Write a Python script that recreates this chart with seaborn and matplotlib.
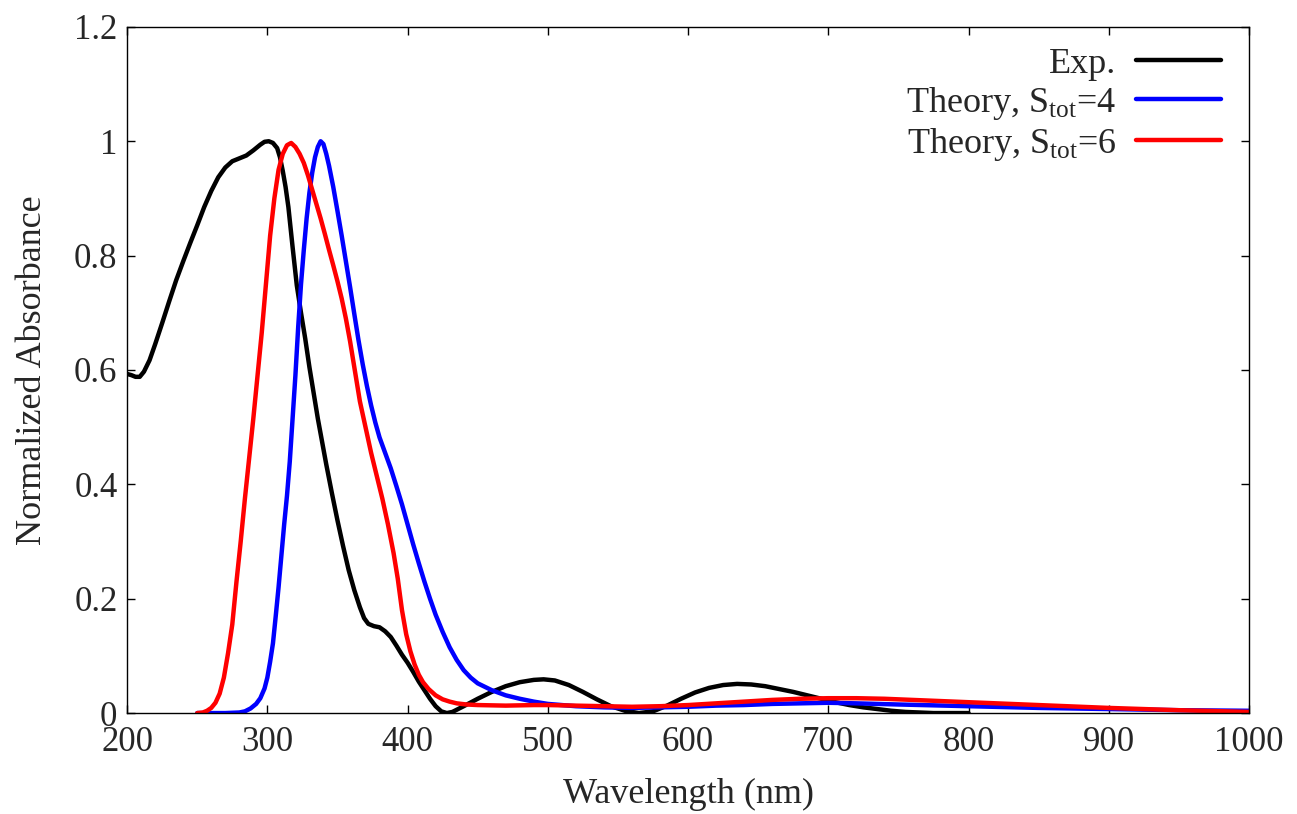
import numpy as np
import pandas as pd
import seaborn as sns
import matplotlib
matplotlib.use('Agg')
import matplotlib.pyplot as plt

# Experimental spectrum
exp_wl = [200, 203, 206, 209, 212, 216, 220, 225, 230, 235, 240, 245, 250, 255,
          260, 265, 270, 275, 280, 285, 290, 295, 298, 301, 304, 307, 309, 311,
          313, 315, 318, 321, 324, 327, 330, 333, 336, 339, 342, 346, 350, 354,
          358, 362, 366, 369, 372, 376, 380, 384, 388, 392, 396, 400, 404, 408,
          412, 416, 420, 424, 428, 432, 436, 440, 450, 460, 470, 480, 490, 497,
          505, 515, 525, 535, 545, 555, 565, 575, 585, 595, 605, 615, 625, 635,
          645, 655, 665, 675, 685, 695, 705, 715, 725, 735, 745, 755, 765, 775,
          800]
exp_abs = [0.593, 0.591, 0.588, 0.588, 0.597, 0.617, 0.645, 0.682, 0.720, 0.757,
           0.790, 0.822, 0.853, 0.885, 0.913, 0.937, 0.954, 0.965, 0.970, 0.975,
           0.984, 0.994, 0.999, 1.000, 0.997, 0.988, 0.972, 0.948, 0.920, 0.885,
           0.815, 0.748, 0.700, 0.655, 0.605, 0.560, 0.515, 0.475, 0.435, 0.385,
           0.337, 0.292, 0.250, 0.215, 0.185, 0.166, 0.156, 0.152, 0.150, 0.143,
           0.133, 0.118, 0.102, 0.088, 0.072, 0.055, 0.040, 0.025, 0.012, 0.003,
           0.000, 0.002, 0.007, 0.012, 0.025, 0.037, 0.047, 0.054, 0.058, 0.059,
           0.057, 0.049, 0.037, 0.024, 0.012, 0.004, 0.000, 0.003, 0.013, 0.025,
           0.036, 0.044, 0.049, 0.051, 0.050, 0.047, 0.042, 0.037, 0.031, 0.025,
           0.019, 0.014, 0.010, 0.007, 0.004, 0.002, 0.001, 0.000, 0.000]

# Theory, S_tot = 4
s4_wl = [250, 270, 280, 284, 288, 292, 295, 298, 300, 302, 304, 306, 308, 310,
         312, 314, 316, 318, 320, 322, 324, 326, 328, 330, 332, 334, 336, 338,
         340, 342, 344, 347, 350, 353, 356, 359, 362, 365, 368, 371, 374, 377,
         380, 384, 388, 392, 396, 400, 404, 408, 412, 416, 420, 425, 430, 435,
         440, 445, 450, 460, 470, 480, 490, 500, 520, 540, 560, 580, 600, 620,
         640, 660, 680, 700, 720, 750, 800, 850, 900, 950, 1000]
s4_abs = [0.000, 0.000, 0.001, 0.003, 0.008, 0.016, 0.026, 0.043, 0.062, 0.090,
          0.122, 0.170, 0.220, 0.275, 0.330, 0.380, 0.440, 0.515, 0.590, 0.675,
          0.750, 0.810, 0.865, 0.910, 0.945, 0.972, 0.990, 1.000, 0.995, 0.978,
          0.957, 0.920, 0.878, 0.835, 0.790, 0.745, 0.698, 0.652, 0.610, 0.572,
          0.538, 0.508, 0.482, 0.455, 0.428, 0.397, 0.365, 0.330, 0.295, 0.262,
          0.230, 0.200, 0.172, 0.142, 0.115, 0.093, 0.075, 0.062, 0.052, 0.040,
          0.031, 0.025, 0.020, 0.016, 0.012, 0.010, 0.009, 0.010, 0.011, 0.013,
          0.014, 0.016, 0.017, 0.018, 0.017, 0.015, 0.012, 0.009, 0.007, 0.005,
          0.004]

# Theory, S_tot = 6
s6_wl = [250, 254, 257, 260, 263, 266, 269, 272, 275, 278, 281, 284, 287, 290,
         293, 296, 299, 302, 305, 308, 311, 314, 317, 320, 323, 326, 329, 332,
         335, 338, 341, 344, 347, 350, 353, 356, 359, 362, 366, 370, 374, 378,
         382, 386, 390, 393, 396, 399, 402, 405, 408, 411, 415, 420, 425, 430,
         435, 442, 450, 470, 490, 500, 520, 540, 560, 580, 600, 620, 640, 660,
         680, 700, 720, 740, 760, 800, 850, 900, 950, 1000]
s6_abs = [0.000, 0.001, 0.004, 0.009, 0.018, 0.034, 0.062, 0.105, 0.155, 0.230,
          0.300, 0.375, 0.445, 0.515, 0.590, 0.665, 0.750, 0.835, 0.900, 0.950,
          0.978, 0.993, 0.997, 0.990, 0.978, 0.962, 0.940, 0.915, 0.890, 0.865,
          0.838, 0.810, 0.783, 0.755, 0.725, 0.690, 0.650, 0.605, 0.545, 0.500,
          0.455, 0.415, 0.375, 0.330, 0.280, 0.235, 0.180, 0.138, 0.108, 0.085,
          0.067, 0.054, 0.042, 0.031, 0.024, 0.020, 0.017, 0.015, 0.014, 0.013,
          0.014, 0.014, 0.013, 0.012, 0.011, 0.012, 0.014, 0.017, 0.020, 0.023,
          0.025, 0.026, 0.026, 0.025, 0.023, 0.019, 0.014, 0.009, 0.005, 0.002]

labels = ['Exp.', r'Theory, S$_{\mathrm{tot}}$=4', r'Theory, S$_{\mathrm{tot}}$=6']
colors = ['black', 'blue', 'red']

df = pd.concat([
    pd.DataFrame({'wl': exp_wl, 'abs': exp_abs, 'series': labels[0]}),
    pd.DataFrame({'wl': s4_wl, 'abs': s4_abs, 'series': labels[1]}),
    pd.DataFrame({'wl': s6_wl, 'abs': s6_abs, 'series': labels[2]}),
])

sns.set_style('ticks')
plt.rcParams['font.family'] = ['Liberation Serif', 'DejaVu Serif']
plt.rcParams['mathtext.fontset'] = 'custom'
plt.rcParams['mathtext.rm'] = 'Liberation Serif'
plt.rcParams['mathtext.it'] = 'Liberation Serif:italic'
plt.rcParams['mathtext.bf'] = 'Liberation Serif:bold'

fig = plt.figure(figsize=(12.97, 8.14), dpi=100)
ax = fig.add_axes([0.098, 0.124, 0.865, 0.843])

sns.lineplot(data=df, x='wl', y='abs', hue='series', hue_order=labels,
             palette=colors, linewidth=3.2, sort=False, estimator=None, ax=ax)

ax.set_xlim(200, 1000)
ax.set_ylim(0, 1.2)
ax.set_xticks(np.arange(200, 1001, 100))
ax.set_yticks([0, 0.2, 0.4, 0.6, 0.8, 1, 1.2])
ax.set_yticklabels(['0', '0.2', '0.4', '0.6', '0.8', '1', '1.2'])
ax.tick_params(direction='in', top=True, right=True, length=6, width=1,
               labelsize=25, color='black')
ax.tick_params(axis='x', pad=9)
ax.tick_params(axis='y', pad=7)
for s in ax.spines.values():
    s.set_visible(True)
    s.set_linewidth(1.0)
    s.set_color('black')

ax.set_xlabel('Wavelength (nm)', fontsize=26, labelpad=14)
ax.set_ylabel('Normalized Absorbance', fontsize=26, labelpad=18)

handles, _ = ax.get_legend_handles_labels()
ax.legend(handles, labels, loc='upper right', frameon=False, markerfirst=False,
          fontsize=26, handlelength=2.35, handletextpad=0.55, labelspacing=0.11,
          borderpad=0, borderaxespad=0, bbox_to_anchor=(0.975, 0.97))

fig.savefig('out.png', dpi=100)
